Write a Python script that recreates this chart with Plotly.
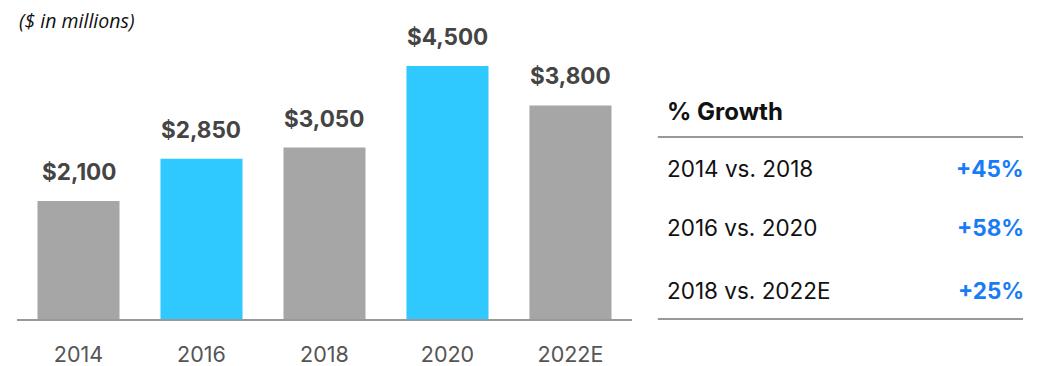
import plotly.graph_objects as go

# Revenue by year ($ in millions)
years = ["2014", "2016", "2018", "2020", "2022E"]
revenue = [2100, 2850, 3050, 4500, 3800]
bar_colors = ["#a6a6a6", "#2fc8ff", "#a6a6a6", "#2fc8ff", "#a6a6a6"]

# Growth comparison table
growth_labels = ["2014 vs. 2018", "2016 vs. 2020", "2018 vs. 2022E"]
growth_values = ["+45%", "+58%", "+25%"]

FONT = "Inter, Roboto, sans-serif"

fig = go.Figure(
    go.Bar(
        x=years,
        y=revenue,
        marker=dict(color=bar_colors, line=dict(width=0)),
        width=0.667,
        hoverinfo="skip",
    )
)

fig.update_layout(
    width=1043,
    height=366,
    margin=dict(l=17, r=20, t=38, b=47),
    paper_bgcolor="white",
    plot_bgcolor="white",
    showlegend=False,
    xaxis=dict(
        type="category",
        domain=[0, 0.6113],
        range=[-0.5, 4.5],
        showline=True,
        linecolor="#999999",
        linewidth=2,
        ticks="",
        showgrid=False,
        tickfont=dict(family=FONT, size=21.5, color="#555555"),
        ticklabelstandoff=15,
        automargin=False,
        fixedrange=True,
    ),
    yaxis=dict(
        range=[0, 5000],
        visible=False,
        automargin=False,
        fixedrange=True,
    ),
)

annotations = [
    dict(
        text="<i>($ in millions)</i>",
        x=0.0, y=1.064, xref="paper", yref="paper",
        xanchor="left", yanchor="middle", showarrow=False,
        font=dict(family="Open Sans, sans-serif", size=19.5, color="#111111"),
    ),
    dict(
        text="<b>% Growth</b>",
        x=0.644, y=0.737, xref="paper", yref="paper",
        xanchor="left", yanchor="middle", showarrow=False,
        font=dict(family=FONT, size=24, color="#111111"),
    ),
]

# Value labels above each bar (category positions by index)
for i, v in enumerate(revenue):
    annotations.append(dict(
        text=f"<b>${v:,}</b>", x=i, y=v, xref="x", yref="y",
        xanchor="center", yanchor="bottom", yshift=14, showarrow=False,
        font=dict(family=FONT, size=22.5, color="#444444"),
    ))

row_y = [0.537, 0.327, 0.103]
for label, value, yy in zip(growth_labels, growth_values, row_y):
    annotations.append(dict(
        text=label, x=0.644, y=yy, xref="paper", yref="paper",
        xanchor="left", yanchor="middle", showarrow=False,
        font=dict(family=FONT, size=22.5, color="#111111"),
    ))
    annotations.append(dict(
        text=f"<b>{value}</b>", x=1.003, y=yy, xref="paper", yref="paper",
        xanchor="right", yanchor="middle", showarrow=False,
        font=dict(family=FONT, size=22.5, color="#1a7cf5"),
    ))

fig.update_layout(annotations=annotations)

# Table rules
for yy in [0.648, 0.0]:
    fig.add_shape(
        type="line", xref="paper", yref="paper",
        x0=0.637, x1=1.0, y0=yy, y1=yy,
        line=dict(color="#999999", width=2),
    )

fig.write_html("out.html")
